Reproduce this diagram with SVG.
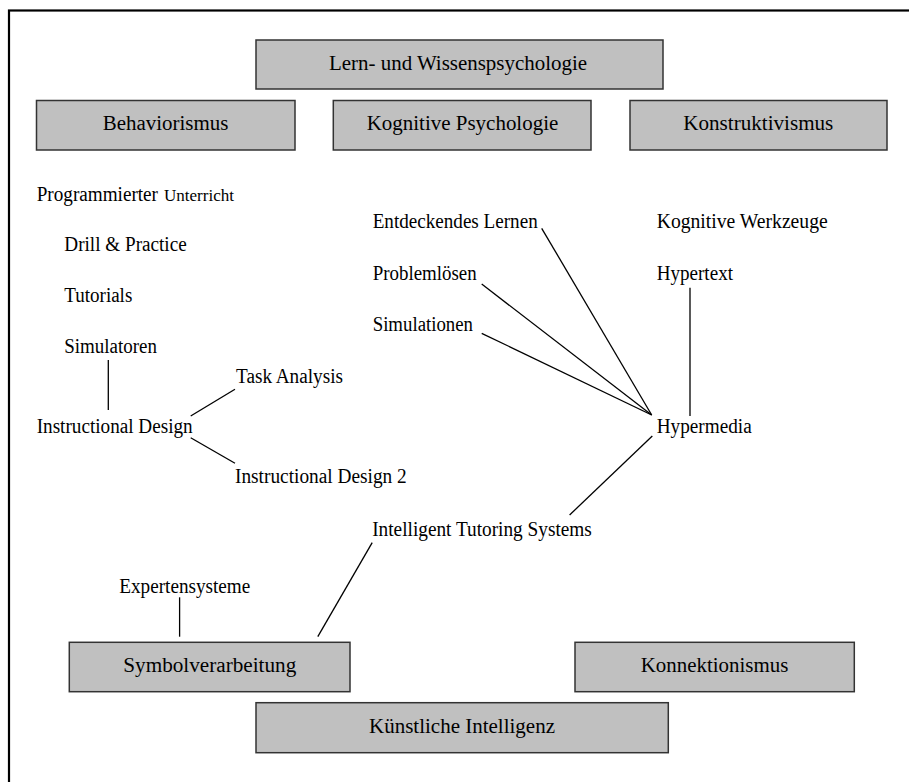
<svg xmlns="http://www.w3.org/2000/svg" width="909" height="782" viewBox="0 0 909 782">
<style>
.box{fill:#c0c0c0;stroke:#333;stroke-width:1.5}
.t{font-family:"Liberation Serif","Times New Roman",serif;font-size:20px;fill:#000}
.c{text-anchor:middle}
.small{font-size:16px}
.ln{stroke:#000;stroke-width:1.3;fill:none}
</style>
<rect x="0" y="0" width="909" height="782" fill="#fff"/>
<rect x="9" y="10.5" width="1000" height="1000" fill="none" stroke="#000" stroke-width="2.2"/>
<g id="lern"><rect class="box" x="256" y="40" width="407" height="49"/><text class="t" x="329" y="70" textLength="258" lengthAdjust="spacingAndGlyphs">Lern- und Wissenspsychologie</text></g>
<g id="behaviorismus"><rect class="box" x="36.5" y="100.5" width="258.5" height="49.5"/><text class="t" x="102.7" y="130" textLength="125.6" lengthAdjust="spacingAndGlyphs">Behaviorismus</text></g>
<g id="kognitive"><rect class="box" x="333.3" y="100.5" width="257.7" height="49.5"/><text class="t" x="366.7" y="130" textLength="191.6" lengthAdjust="spacingAndGlyphs">Kognitive Psychologie</text></g>
<g id="konstruktivismus"><rect class="box" x="630" y="100.5" width="257" height="49.5"/><text class="t" x="683.3" y="130" textLength="150" lengthAdjust="spacingAndGlyphs">Konstruktivismus</text></g>
<g id="programmierter"><text class="t" x="36.7" y="201" textLength="121.3" lengthAdjust="spacingAndGlyphs">Programmierter</text><text class="t small" x="164" y="201" textLength="70" lengthAdjust="spacingAndGlyphs">Unterricht</text></g>
<g id="drill"><text class="t" x="64.3" y="251" textLength="122.4" lengthAdjust="spacingAndGlyphs">Drill &amp; Practice</text></g>
<g id="tutorials"><text class="t" x="64.3" y="301.7" textLength="68" lengthAdjust="spacingAndGlyphs">Tutorials</text></g>
<g id="simulatoren"><text class="t" x="64.3" y="352.7" textLength="92.7" lengthAdjust="spacingAndGlyphs">Simulatoren</text></g>
<g id="instructional"><text class="t" x="36.7" y="433.3" textLength="156" lengthAdjust="spacingAndGlyphs">Instructional Design</text></g>
<g id="task"><text class="t" x="236" y="382.7" textLength="107" lengthAdjust="spacingAndGlyphs">Task Analysis</text></g>
<g id="instructional2"><text class="t" x="235" y="483.3" textLength="171.7" lengthAdjust="spacingAndGlyphs">Instructional Design 2</text></g>
<g id="entdeckendes"><text class="t" x="372.7" y="228.3" textLength="165" lengthAdjust="spacingAndGlyphs">Entdeckendes Lernen</text></g>
<g id="problemloesen"><text class="t" x="372.7" y="280" textLength="104" lengthAdjust="spacingAndGlyphs">Problemlösen</text></g>
<g id="simulationen"><text class="t" x="372.7" y="330.7" textLength="100.3" lengthAdjust="spacingAndGlyphs">Simulationen</text></g>
<g id="werkzeuge"><text class="t" x="656.7" y="228.3" textLength="171" lengthAdjust="spacingAndGlyphs">Kognitive Werkzeuge</text></g>
<g id="hypertext"><text class="t" x="656.7" y="280" textLength="76.3" lengthAdjust="spacingAndGlyphs">Hypertext</text></g>
<g id="hypermedia"><text class="t" x="656.7" y="433.3" textLength="95" lengthAdjust="spacingAndGlyphs">Hypermedia</text></g>
<g id="its"><text class="t" x="372.2" y="536" textLength="219.7" lengthAdjust="spacingAndGlyphs">Intelligent Tutoring Systems</text></g>
<g id="expertensysteme"><text class="t" x="119.3" y="593.3" textLength="131" lengthAdjust="spacingAndGlyphs">Expertensysteme</text></g>
<g id="symbolverarbeitung"><rect class="box" x="69.3" y="642.3" width="280.7" height="49.4"/><text class="t" x="123.3" y="672.3" textLength="173" lengthAdjust="spacingAndGlyphs">Symbolverarbeitung</text></g>
<g id="konnektionismus"><rect class="box" x="575" y="642.3" width="279.3" height="49.4"/><text class="t" x="640.7" y="672.3" textLength="147.6" lengthAdjust="spacingAndGlyphs">Konnektionismus</text></g>
<g id="kuenstliche"><rect class="box" x="256" y="702.7" width="412.3" height="50"/><text class="t" x="369" y="732.7" textLength="186" lengthAdjust="spacingAndGlyphs">Künstliche Intelligenz</text></g>
<g id="connectors">
<line class="ln" x1="108.3" y1="360" x2="108.3" y2="410"/>
<line class="ln" x1="190.7" y1="416" x2="235" y2="389.3"/>
<line class="ln" x1="190.7" y1="437.7" x2="235" y2="463.3"/>
<line class="ln" x1="541.7" y1="228.3" x2="651.7" y2="415"/>
<line class="ln" x1="481.7" y1="284" x2="651.7" y2="415"/>
<line class="ln" x1="481.7" y1="333.3" x2="651.7" y2="415"/>
<line class="ln" x1="690" y1="287.7" x2="690" y2="416"/>
<line class="ln" x1="652.3" y1="436" x2="569.6" y2="515"/>
<line class="ln" x1="372.2" y1="542.7" x2="317.8" y2="636.7"/>
<line class="ln" x1="179.6" y1="597.3" x2="179.6" y2="636.7"/>
</g>
</svg>
